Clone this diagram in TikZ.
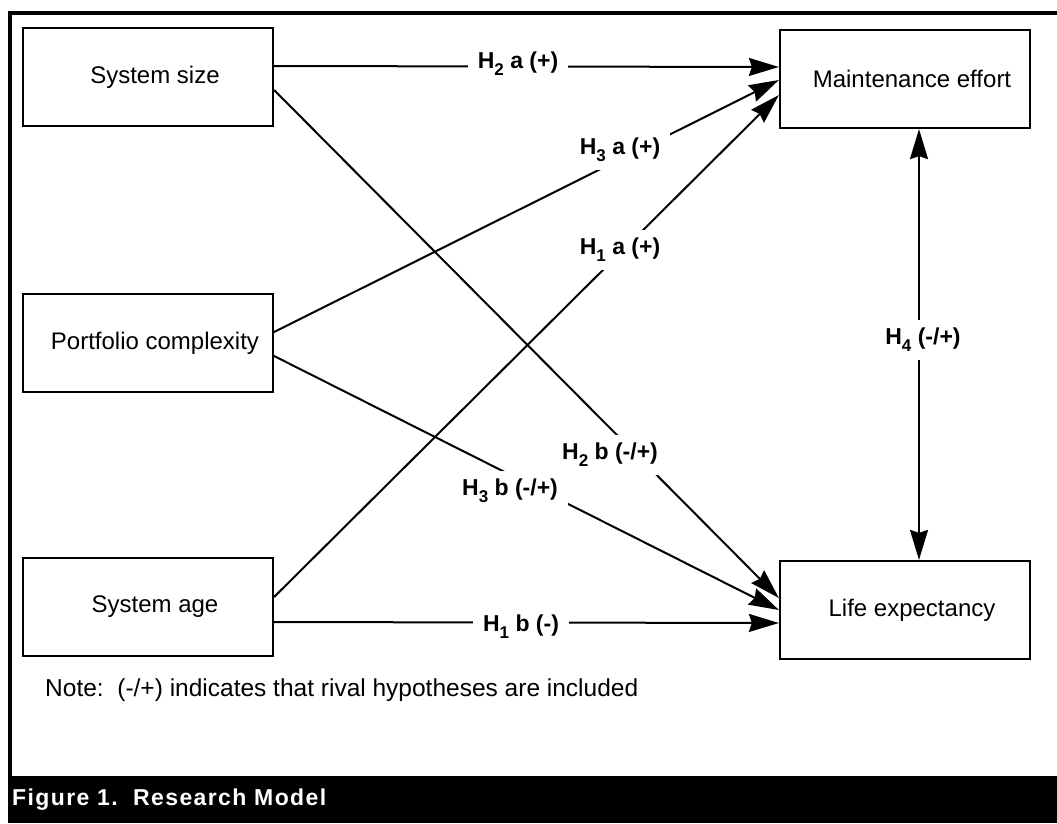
\documentclass[tikz,border=0pt]{standalone}
\usepackage{fontspec}
\setmainfont{Liberation Sans}
\usetikzlibrary{arrows.meta}
\newcommand{\Hsub}[1]{H\raisebox{-0.3em}{\fontsize{17}{17}\selectfont #1}}
\begin{document}
\begin{tikzpicture}[x=1pt,y=-1pt,
  box/.style={draw, line width=2.2pt, minimum width=250pt, minimum height=98pt, inner sep=0pt,
    font=\fontsize{24}{28}\selectfont, execute at begin node=\hspace*{14pt}},
  conn/.style={line width=2pt, -{Stealth[length=30pt,width=18pt,inset=3pt]}},
  hyp/.style={fill=white, inner xsep=10pt, inner ysep=8pt, font=\fontsize{23}{26}\selectfont\bfseries},
]
\useasboundingbox (0,0) rectangle (1057,823);
% frame
\draw[line width=4pt, line join=miter] (10,776) -- (10,13) -- (1060,13);
\fill (8,776) rectangle (1060,823);
\node[anchor=west, text=white, inner sep=0pt, font=\fontsize{23}{26}\selectfont\bfseries\addfontfeature{LetterSpace=6}] (cap) at (12,800) {Figure 1.\ \ Research Model};
\node[anchor=west, inner sep=0pt, font=\fontsize{24.5}{28}\selectfont] (note) at (45,690) {Note:\ \ (-/+) indicates that rival hypotheses are included};
% boxes
\node[box] (SS) at (148,77) {System size};
\node[box] (PC) at (148,343) {Portfolio complexity};
\node[box] (SA) at (148,607) {System age};
\node[box] (ME) at (905,79) {Maintenance effort};
\node[box] (LE) at (905,610) {Life expectancy};
% connectors
\draw[conn] ([yshift=11pt]SS.east) -- ([yshift=12pt]ME.west);
\draw[conn] ([yshift=-13pt]SS.east) -- ([yshift=12pt]LE.west);
\draw[conn] ([yshift=11pt]PC.east) -- ([yshift=-1pt]ME.west);
\draw[conn] ([yshift=-13pt]PC.east) -- (LE.west);
\draw[conn] ([yshift=10pt]SA.east) -- ([yshift=-16pt]ME.west);
\draw[conn] ([yshift=-15pt]SA.east) -- ([yshift=-13pt]LE.west);
\draw[line width=2pt, {Stealth[length=30pt,width=18pt,inset=3pt]}-{Stealth[length=30pt,width=18pt,inset=3pt]}] ([xshift=14pt]ME.south) -- ([xshift=14pt]LE.north);
% labels
\node[hyp] (h2a) at (518,64) {\Hsub{2} a (+)};
\node[hyp] (h2b) at (610,455) {\Hsub{2} b (-/+)};
\node[hyp] (h3a) at (620,150) {\Hsub{3} a (+)};
\node[hyp] (h3b) at (510,491) {\Hsub{3} b (-/+)};
\node[hyp] (h1a) at (620,250) {\Hsub{1} a (+)};
\node[hyp] (h1b) at (521,627) {\Hsub{1} b (-)};
\node[hyp] (h4) at (923,340) {\Hsub{4} (-/+)};
\end{tikzpicture}
\end{document}
